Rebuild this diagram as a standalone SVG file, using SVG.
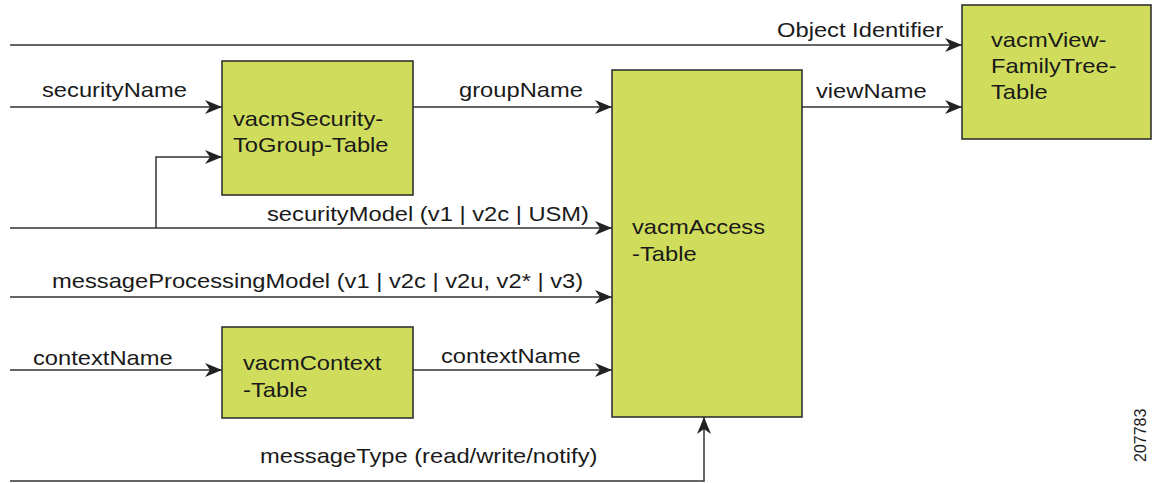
<svg xmlns="http://www.w3.org/2000/svg" width="1158" height="483" viewBox="0 0 1158 483">
<style>
.box{fill:#d0dd5c;stroke:#333;stroke-width:1.6}
.ln{fill:none;stroke:#333;stroke-width:1.5}
text{font-family:"Liberation Sans",Arial,Helvetica,sans-serif;font-size:21px;fill:#1a1a1a}
.id{font-size:16px}
</style>
<defs>
<marker id="ah" markerUnits="userSpaceOnUse" viewBox="0 0 17 14" refX="17" refY="7" markerWidth="17" markerHeight="14" orient="auto">
<path d="M0,0 L17,7 L0,14 L5,7 Z" fill="#222"/>
</marker>
</defs>
<rect width="1158" height="483" fill="#fff"/>
<g id="connectors">
<path class="ln" d="M10,45 H962" marker-end="url(#ah)"/>
<path class="ln" d="M10,107 H222" marker-end="url(#ah)"/>
<path class="ln" d="M413,107 H612" marker-end="url(#ah)"/>
<path class="ln" d="M802,107 H962" marker-end="url(#ah)"/>
<path class="ln" d="M10,228 H612" marker-end="url(#ah)"/>
<path class="ln" d="M156,228 V157 H222" marker-end="url(#ah)"/>
<path class="ln" d="M10,297 H612" marker-end="url(#ah)"/>
<path class="ln" d="M10,370 H222" marker-end="url(#ah)"/>
<path class="ln" d="M413,370 H612" marker-end="url(#ah)"/>
<path class="ln" d="M10,481 H704 V417" marker-end="url(#ah)"/>
<text transform="translate(777,37) scale(1.13,1)">Object Identifier</text>
<text transform="translate(42,97) scale(1.13,1)">securityName</text>
<text transform="translate(459,97) scale(1.13,1)">groupName</text>
<text transform="translate(816,98) scale(1.13,1)">viewName</text>
<text transform="translate(267,221) scale(1.13,1)">securityModel (v1 | v2c | USM)</text>
<text transform="translate(52,288) scale(1.13,1)">messageProcessingModel (v1 | v2c | v2u, v2* | v3)</text>
<text transform="translate(33,365) scale(1.13,1)">contextName</text>
<text transform="translate(441,363) scale(1.13,1)">contextName</text>
<text transform="translate(260,463) scale(1.13,1)">messageType (read/write/notify)</text>
</g>
<g id="vacmSecurityToGroupTable">
<rect class="box" x="222" y="61" width="191" height="134"/>
<text transform="translate(233,126) scale(1.13,1)"><tspan x="0" y="0">vacmSecurity-</tspan><tspan x="0" y="26">ToGroup-Table</tspan></text>
</g>
<g id="vacmAccessTable">
<rect class="box" x="612" y="70" width="190" height="347"/>
<text transform="translate(632,234) scale(1.13,1)"><tspan x="0" y="0">vacmAccess</tspan><tspan x="0" y="27">-Table</tspan></text>
</g>
<g id="vacmContextTable">
<rect class="box" x="222" y="327" width="191" height="91"/>
<text transform="translate(243,370) scale(1.13,1)"><tspan x="0" y="0">vacmContext</tspan><tspan x="0" y="27">-Table</tspan></text>
</g>
<g id="vacmViewFamilyTreeTable">
<rect class="box" x="962" y="5" width="189" height="134"/>
<text transform="translate(991,47) scale(1.13,1)"><tspan x="0" y="0">vacmView-</tspan><tspan x="0" y="26">FamilyTree-</tspan><tspan x="0" y="52">Table</tspan></text>
</g>
<text class="id" transform="translate(1146,462) rotate(-90)">207783</text>
</svg>
